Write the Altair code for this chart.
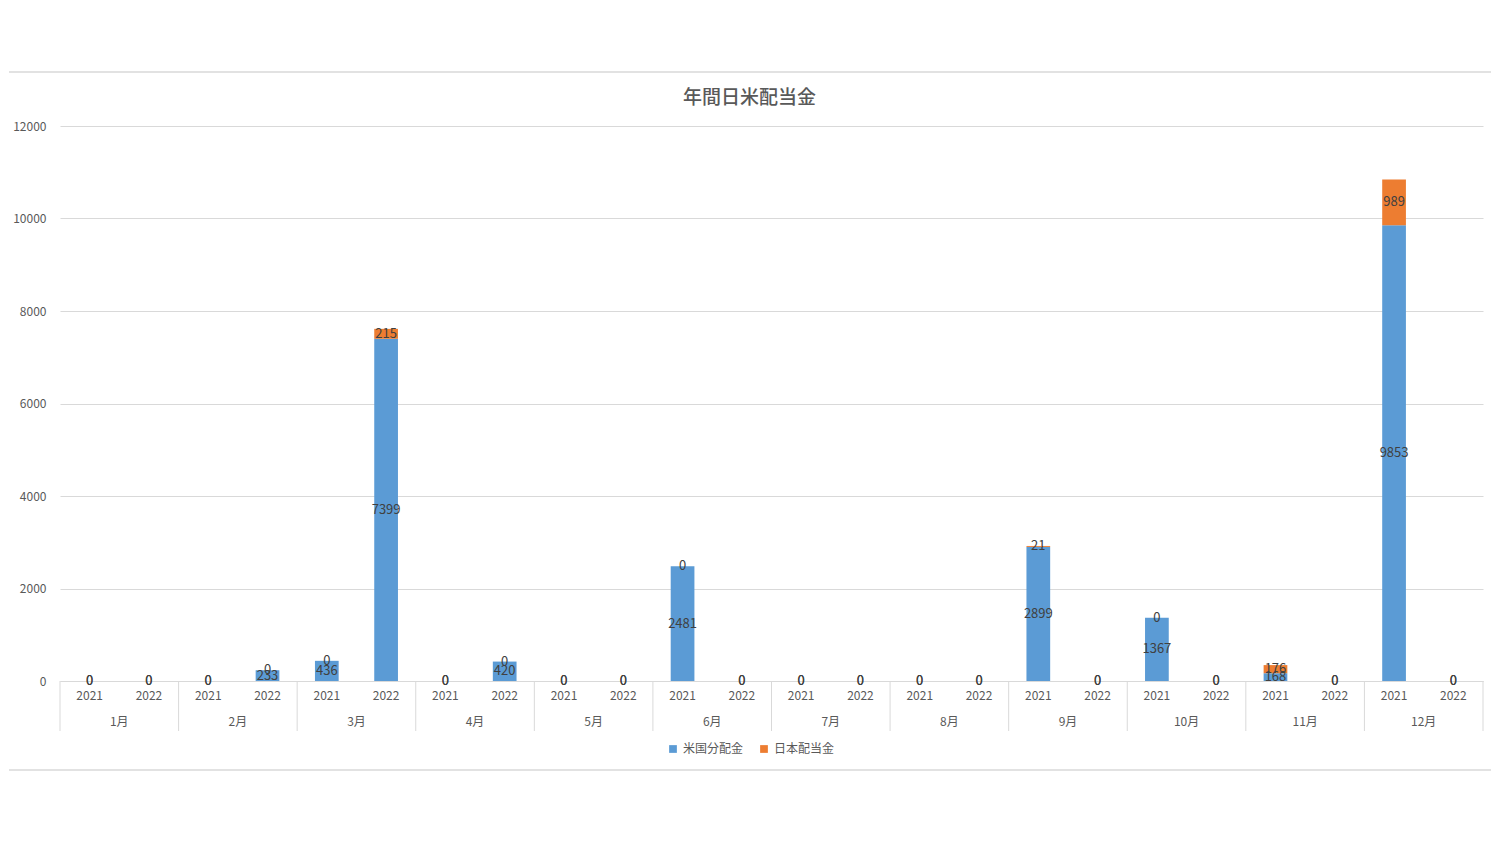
import altair as alt
import pandas as pd

months = ["1月", "2月", "3月", "4月", "5月", "6月", "7月", "8月", "9月", "10月", "11月", "12月"]
years = ["2021", "2022"]
series_names = ["米国分配金", "日本配当金"]
colors = ["#5B9BD5", "#ED7D31"]

# values per month: [2021, 2022]
us_values = [[0, 0], [0, 233], [436, 7399], [0, 420], [0, 0], [2481, 0],
             [0, 0], [0, 0], [2899, 0], [1367, 0], [168, 0], [9853, 0]]
jp_values = [[0, 0], [0, 0], [0, 215], [0, 0], [0, 0], [0, 0],
             [0, 0], [0, 0], [21, 0], [0, 0], [176, 0], [989, 0]]

keys = [f"{m}|{y}" for m in months for y in years]

rows = []
for i, m in enumerate(months):
    for j, y in enumerate(years):
        key = f"{m}|{y}"
        rows.append({"key": key, "series": series_names[0], "ord": 0, "value": us_values[i][j]})
        rows.append({"key": key, "series": series_names[1], "ord": 1, "value": jp_values[i][j]})
df = pd.DataFrame(rows)

first_keys = pd.DataFrame({"key": [f"{m}|{years[0]}" for m in months], "month": months})
last_key = pd.DataFrame({"key": [keys[-1]]})
one = pd.DataFrame({"a": [0]})

FONT = "Noto Sans CJK JP"
W, H = 1423, 555
GRAY = "#595959"
LINE = "#d9d9d9"

xscale = alt.Scale(domain=keys, paddingInner=0, paddingOuter=0)
yscale = alt.Scale(domain=[0, 12000])
xaxis = alt.Axis(title=None, labelAngle=0, ticks=False, domainColor=LINE, labelPadding=9,
                 labelColor=GRAY, labelFontSize=12, grid=False,
                 labelExpr="split(datum.value, '|')[1]")
yaxis = alt.Axis(title=None, values=[0, 2000, 4000, 6000, 8000, 10000, 12000], ticks=False,
                 domain=False, labelPadding=14, labelColor=GRAY, labelFontSize=12,
                 gridColor=LINE, format="d")

bars = alt.Chart(df).mark_bar(width=alt.RelativeBandSize(0.4)).encode(
    x=alt.X("key:N", scale=xscale, axis=xaxis, sort=None),
    y=alt.Y("value:Q", stack="zero", scale=yscale, axis=yaxis),
    color=alt.Color("series:N", scale=alt.Scale(domain=series_names, range=colors),
                    legend=alt.Legend(title=None, orient="none", legendX=607, legendY=617,
                                      direction="horizontal", symbolType="square",
                                      symbolSize=60, labelFontSize=12, labelColor=GRAY,
                                      columnPadding=14)),
    order=alt.Order("ord:Q", sort="ascending"),
)

labels = alt.Chart(df).transform_stack(
    stack="value", groupby=["key"], as_=["y0", "y1"],
    sort=[alt.SortField("ord", order="ascending")]
).transform_calculate(mid="(datum.y0 + datum.y1) / 2").mark_text(
    fontSize=13, color="#404040", baseline="middle"
).encode(
    x=alt.X("key:N", scale=xscale, axis=xaxis, sort=None),
    y=alt.Y("mid:Q", scale=yscale, axis=yaxis),
    text=alt.Text("value:Q", format="d"),
)

sep_rules = alt.Chart(first_keys).mark_rule(color=LINE, strokeWidth=1).encode(
    x=alt.X("key:N", scale=xscale, axis=xaxis, bandPosition=0, sort=None),
    y=alt.value(H), y2=alt.value(H + 50),
)
end_rule = alt.Chart(last_key).mark_rule(color=LINE, strokeWidth=1).encode(
    x=alt.X("key:N", scale=xscale, axis=xaxis, bandPosition=1, sort=None),
    y=alt.value(H), y2=alt.value(H + 50),
)
month_text = alt.Chart(first_keys).mark_text(fontSize=12, color=GRAY, baseline="middle").encode(
    x=alt.X("key:N", scale=xscale, axis=xaxis, bandPosition=1, sort=None),
    y=alt.value(H + 41),
    text="month:N",
)
frame_top = alt.Chart(one).mark_rule(color=LINE, strokeWidth=1.5).encode(
    x=alt.value(-51), x2=alt.value(1431), y=alt.value(-54)
)
frame_bottom = alt.Chart(one).mark_rule(color=LINE, strokeWidth=1.5).encode(
    x=alt.value(-51), x2=alt.value(1431), y=alt.value(644)
)

chart = alt.layer(
    bars, labels, sep_rules, end_rule, month_text, frame_top, frame_bottom
).properties(
    width=W, height=H,
    title=alt.TitleParams("年間日米配当金", fontSize=19, color=GRAY, font=FONT,
                          fontWeight=500, dx=-22, offset=-37, anchor="middle"),
    autosize=alt.AutoSizeParams(type="none"),
    padding={"left": 60, "top": 126, "right": 17, "bottom": 162},
).configure(font=FONT).configure_view(stroke=None)

chart.save("out.html", embed_options={"renderer": "svg", "actions": False})
